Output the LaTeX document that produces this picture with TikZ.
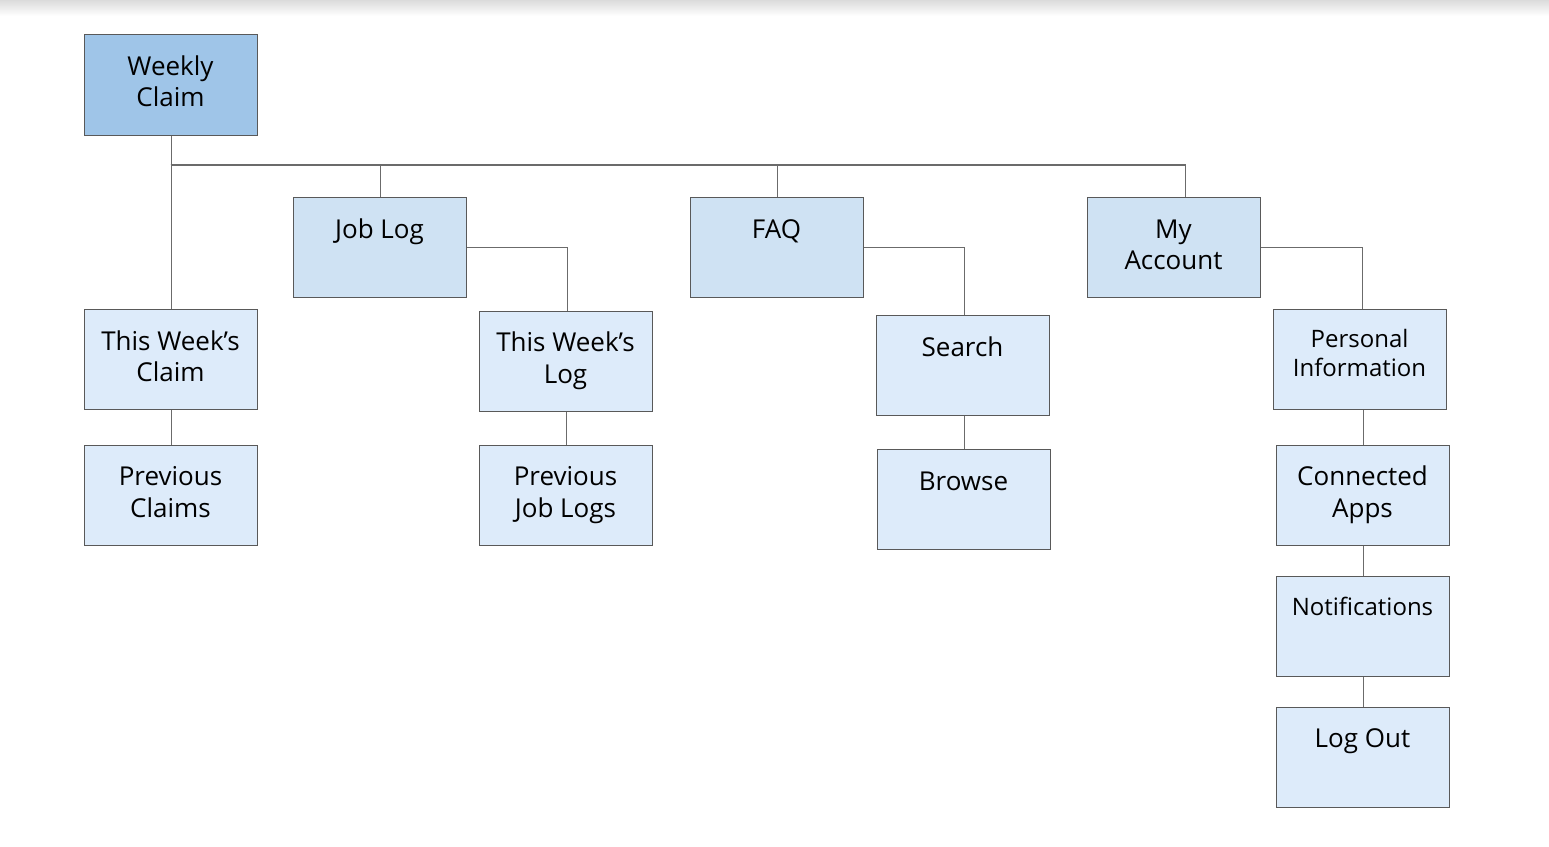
\documentclass[tikz,border=0pt]{standalone}
\usepackage{fontspec}
\setmainfont{Open Sans}
\definecolor{rootfill}{HTML}{9FC5E8}
\definecolor{midfill}{HTML}{CFE2F3}
\definecolor{leaffill}{HTML}{DDEBFA}
\definecolor{edgecol}{HTML}{595959}
\definecolor{conncol}{HTML}{6B6B6B}
\newcommand\mystrut{\rule{0pt}{21pt}}
\begin{document}
\begin{tikzpicture}[x=1pt,y=-1pt,
  box/.style={draw=edgecol, line width=1.4pt, minimum width=173pt, minimum height=100pt, inner sep=0pt, anchor=north west},
  rootbox/.style={box, fill=rootfill, minimum height=101pt},
  midbox/.style={box, fill=midfill},
  leafbox/.style={box, fill=leaffill},
  txt/.style={anchor=north, inner sep=0pt, align=center, font=\fontsize{26}{31.5}\selectfont},
  smalltxt/.style={txt, font=\fontsize{24}{29}\selectfont},
  conn/.style={draw=conncol, line width=1.4pt}]
\useasboundingbox (0,0) rectangle (1549,846);
\shade[top color=black!14, bottom color=white] (0,0) rectangle (1549,16);
% boxes
\node[rootbox] (wc) at (84,34) {};
\node[midbox] (jl) at (293,197) {};
\node[midbox] (faq) at (690,197) {};
\node[midbox] (ma) at (1087,197) {};
\node[leafbox] (twc) at (84,309) {};
\node[leafbox] (pc) at (84,445) {};
\node[leafbox] (twl) at (479,311) {};
\node[leafbox] (pjl) at (479,445) {};
\node[leafbox] (se) at (876,315) {};
\node[leafbox] (br) at (877,449) {};
\node[leafbox] (pi) at (1273,309) {};
\node[leafbox] (ca) at (1276,445) {};
\node[leafbox] (no) at (1276,576) {};
\node[leafbox] (lo) at (1276,707) {};
% texts
\node[txt] (wct) at (170.5,54) {\mystrut Weekly\\Claim};
\node[txt] (jlt) at (379.5,217) {\mystrut Job Log};
\node[txt] (faqt) at (776.5,217) {\mystrut FAQ};
\node[txt] (mat) at (1173.5,217) {\mystrut My\\Account};
\node[txt] (twct) at (170.5,329) {\mystrut This Week’s\\Claim};
\node[txt] (pct) at (170.5,464.7) {\mystrut Previous\\Claims};
\node[txt] (twlt) at (565.5,330.7) {\mystrut This Week’s\\Log};
\node[txt] (pjlt) at (565.5,464.7) {\mystrut Previous\\Job Logs};
\node[txt] (set) at (962.5,335.5) {\mystrut Search};
\node[txt] (brt) at (963.5,469) {\mystrut Browse};
\node[smalltxt] (pit) at (1359.5,326.7) {\mystrut Personal\\Information};
\node[txt] (cat) at (1362.5,464.7) {\mystrut Connected\\Apps};
\node[smalltxt] (not) at (1362.5,594) {\mystrut Notifications};
\node[txt] (lot) at (1362.5,726.7) {\mystrut Log Out};
% connectors
\coordinate (bus) at (170.5,165);
\draw[conn] (wc.south) -- (twc.north);
\draw[conn] (bus) -| (jl.north);
\draw[conn] (bus) -| (faq.north);
\draw[conn] (bus) -| ([xshift=11.5pt]ma.north);
\draw[conn] (jl.east) -| ([xshift=1.5pt]twl.north);
\draw[conn] (faq.east) -| ([xshift=1.5pt]se.north);
\draw[conn] (ma.east) -| ([xshift=2pt]pi.north);
\draw[conn] (twc.south) -- (pc.north);
\draw[conn] (twl.south) -- (pjl.north);
\draw[conn] (br.north |- se.south) -- (br.north);
\draw[conn] (ca.north |- pi.south) -- (ca.north);
\draw[conn] (ca.south) -- (no.north);
\draw[conn] (no.south) -- (lo.north);
\end{tikzpicture}
\end{document}
